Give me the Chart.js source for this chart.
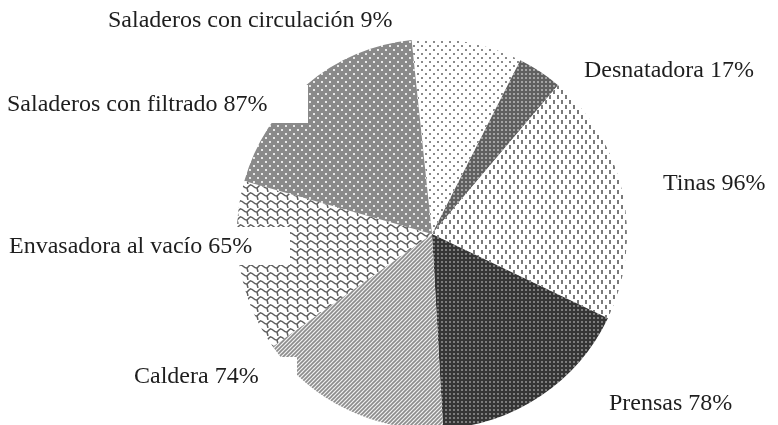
<!DOCTYPE html>
<html>
<head>
<meta charset="utf-8">
<script src="https://cdn.jsdelivr.net/npm/chart.js@4"></script>
<style>
  html, body { margin: 0; padding: 0; background: #fff; overflow: hidden; }
  #wrap { position: absolute; left: 0; top: 0; width: 778px; height: 440px; }
</style>
</head>
<body>
<div id="wrap"><canvas id="pieChart"></canvas></div>
<script>
// categories, in drawing order (clockwise from the top)
const categories = [
    'Saladeros con circulación',
    'Desnatadora',
    'Tinas',
    'Prensas',
    'Caldera',
    'Envasadora al vacío',
    'Saladeros con filtrado'
];
// percentages printed in the labels
const labelPercents = [9, 17, 96, 78, 74, 65, 87];
// slice sizes as drawn in the picture
const sliceValues = [42, 17, 96, 78, 74, 65, 87];

// small helper to build a canvas pattern
function makePattern(w, h, draw) {
    const c = document.createElement('canvas');
    c.width = w;
    c.height = h;
    const g = c.getContext('2d');
    draw(g, w, h);
    return g.createPattern(c, 'repeat');
}

const ctx = document.getElementById('pieChart').getContext('2d');

const patterns = [
    // sparse gray dots on white
    makePattern(8, 8, (g) => {
        g.fillStyle = '#fff'; g.fillRect(0, 0, 8, 8);
        g.fillStyle = '#8a8a8a';
        g.fillRect(1, 1, 2, 2); g.fillRect(5, 5, 2, 2);
    }),
    // medium checker
    makePattern(4, 4, (g) => {
        g.fillStyle = '#606060'; g.fillRect(0, 0, 4, 4);
        g.fillStyle = '#a4a4a4'; g.fillRect(1, 1, 2, 2);
    }),
    // short vertical dashes
    makePattern(8, 10, (g) => {
        g.fillStyle = '#fff'; g.fillRect(0, 0, 8, 10);
        g.fillStyle = '#7a7a7a';
        g.fillRect(1, 0, 2, 4); g.fillRect(5, 5, 2, 4);
    }),
    // dark checker
    makePattern(4, 4, (g) => {
        g.fillStyle = '#353535'; g.fillRect(0, 0, 4, 4);
        g.fillStyle = '#7c7c7c'; g.fillRect(1, 1, 2, 2);
    }),
    // diagonal stripes
    makePattern(4, 4, (g) => {
        g.fillStyle = '#f2f2f2'; g.fillRect(0, 0, 4, 4);
        g.strokeStyle = '#8c8c8c'; g.lineWidth = 1.6;
        g.beginPath();
        g.moveTo(-1, 5); g.lineTo(5, -1);
        g.moveTo(-1, 1); g.lineTo(1, -1);
        g.moveTo(3, 5); g.lineTo(5, 3);
        g.stroke();
    }),
    // wavy scale mesh
    makePattern(10, 8, (g) => {
        g.fillStyle = '#fff'; g.fillRect(0, 0, 10, 8);
        g.strokeStyle = '#5e5e5e'; g.lineWidth = 1.5;
        g.beginPath();
        g.moveTo(0, 1); g.bezierCurveTo(3, 0, 4, 5, 7, 4);
        g.lineTo(10, 1);
        g.moveTo(7, 4); g.lineTo(8, 8);
        g.moveTo(-3, 4); g.lineTo(0, 1);
        g.moveTo(0, 1); g.lineTo(-1, -3);
        g.moveTo(-2, 9); g.bezierCurveTo(1, 8, 2, 13, 5, 12);
        g.moveTo(10, 1); g.bezierCurveTo(13, 0, 14, 5, 17, 4);
        g.moveTo(-3, 12); g.lineTo(0, 9);
        g.stroke();
    }),
    // white dots on gray
    makePattern(8, 8, (g) => {
        g.fillStyle = '#8a8a8a'; g.fillRect(0, 0, 8, 8);
        g.fillStyle = '#e8e8e8';
        g.fillRect(1, 1, 2, 2); g.fillRect(5, 5, 2, 2);
    })
];

// draws the outside labels, with a white box behind where the picture has one
const outsideLabels = {
    id: 'outsideLabels',
    afterDraw(chart, args, opts) {
        const c = chart.ctx;
        c.save();
        c.font = '24px "Liberation Serif", "Times New Roman", serif';
        c.textBaseline = 'middle';
        c.textAlign = 'left';
        categories.forEach((name, i) => {
            const text = name + ' ' + labelPercents[i] + '%';
            const p = opts.anchors[i];
            const w = c.measureText(text).width;
            const right = opts.boxRight[i] || (p.x + w + 2);
            c.fillStyle = '#fff';
            c.fillRect(p.x - 4, p.y - 19, right - p.x + 4, 38);
            c.fillStyle = '#1e1e1e';
            c.fillText(text, p.x, p.y + 1);
        });
        c.restore();
    }
};

new Chart(ctx, {
    type: 'pie',
    data: {
        labels: categories,
        datasets: [{
            data: sliceValues,
            backgroundColor: patterns,
            borderWidth: 0
        }]
    },
    options: {
        responsive: true,
        maintainAspectRatio: false,
        animation: false,
        rotation: -6,
        layout: { padding: { top: 39, bottom: 11, left: 237, right: 151 } },
        plugins: {
            legend: { display: false },
            tooltip: { enabled: false },
            outsideLabels: {
                anchors: [
                    { x: 108, y: 20 },
                    { x: 584, y: 70 },
                    { x: 663, y: 183 },
                    { x: 609, y: 403 },
                    { x: 134, y: 376 },
                    { x: 9, y: 246 },
                    { x: 7, y: 104 }
                ],
                boxRight: [0, 0, 0, 0, 297, 290, 308]
            }
        }
    },
    plugins: [outsideLabels]
});
</script>
</body>
</html>
